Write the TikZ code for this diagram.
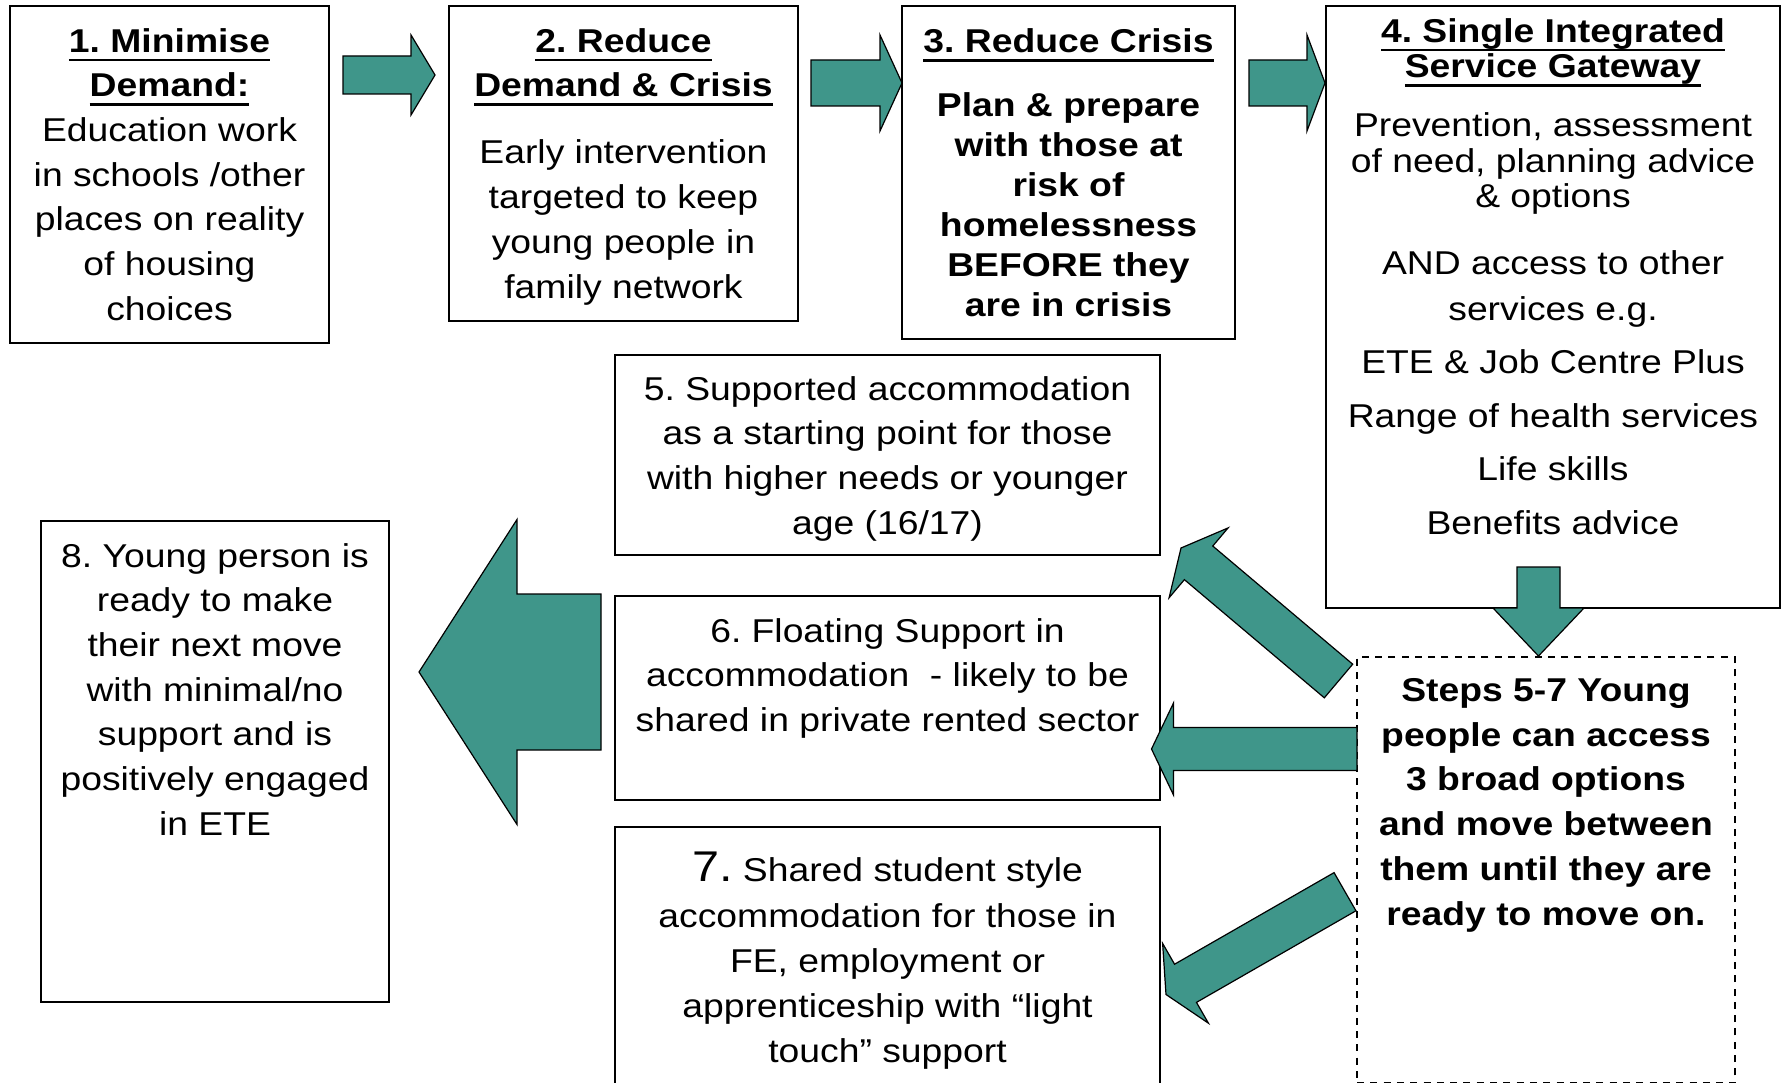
\documentclass[tikz,border=0pt]{standalone}
\usepackage{fontspec}
\setmainfont{Liberation Sans}[FakeStretch=1.13]
\usetikzlibrary{calc}
\definecolor{arrowteal}{HTML}{3F968A}
\frenchspacing
\newcommand{\uln}[1]{\mbox{\setbox0\hbox{#1}\rlap{\rule[-8.9pt]{\wd0}{2.4pt}}\box0}}
\tikzset{
  box/.style 2 args={draw, line width=1.8pt, inner sep=0pt, minimum width=#1, minimum height=#2},
  txt/.style={align=center, inner sep=0pt, anchor=north, font=\fontsize{33}{44.7}\selectfont},
  fat/.style={fill=arrowteal, draw=black, line width=1.2pt},
}
% tail, tip, half shaft, half head, head length
\newcommand{\fatarrow}[5]{%
  \coordinate (hb) at ($(#2)!#5!(#1)$);
  \filldraw[fat] ($(#1)!#3!90:(#2)$) -- ($(hb)!#3!90:(#2)$) -- ($(hb)!#4!90:(#2)$) -- (#2)
    -- ($(hb)!#4!-90:(#2)$) -- ($(hb)!#3!-90:(#2)$) -- ($(#1)!#3!-90:(#2)$) -- cycle;
}
\begin{document}
\begin{tikzpicture}[x=1pt, y=-1pt]
\useasboundingbox (0,0) rectangle (1783,1083);

\node[box={319pt}{337pt}] (b1) at (169.5,174.5) {};
\node[box={349pt}{315pt}] (b2) at (623.5,163.5) {};
\node[box={333pt}{333pt}] (b3) at (1068.5,172.5) {};
\node[box={454pt}{602pt}] (b4) at (1553,307) {};
\node[box={545pt}{200pt}] (b5) at (887.5,455) {};
\node[box={545pt}{204pt}] (b6) at (887.5,698) {};
\node[box={545pt}{273pt}] (b7) at (887.5,963.5) {};
\node[box={348pt}{481pt}] (b8) at (215,761.5) {};
\node[box={378pt}{426pt}, line width=1.6pt, dash pattern=on 7pt off 6.3pt] (b57) at (1546,870) {};

\node[txt] (b1t) at (169.5,28) {\textbf{\uln{1. Minimise}}\\ \textbf{\uln{Demand:}}\\ Education work\\ in schools /other\\ places on reality\\ of housing\\ choices};
\node[txt] (b2t) at (623.5,28) {\textbf{\uln{2. Reduce}}\\ \textbf{\uln{Demand \& Crisis}}\\[22.4pt] Early intervention\\ targeted to keep\\ young people in\\ family network};
\node[txt, font=\fontsize{33}{40}\selectfont\bfseries] (b3t) at (1068.5,28.5) {\uln{3. Reduce Crisis}\\[23.7pt] Plan \& prepare\\ with those at\\ risk of\\ homelessness\\ BEFORE they\\ are in crisis};
\node[txt, font=\fontsize{33}{35.5}\selectfont] (b4t) at (1553,18) {\textbf{\uln{4. Single Integrated}}\\ \textbf{\uln{Service Gateway}}\\[23.5pt] Prevention, assessment\\ of need, planning advice\\ \& options\\[31.5pt] AND access to other\\[10pt] services e.g.\\[18pt] ETE \& Job Centre Plus\\[18pt] Range of health services\\[18pt] Life skills\\[18pt] Benefits advice};
\node[txt] (b5t) at (887.5,376) {5. Supported accommodation\\ as a starting point for those\\ with higher needs or younger\\ age (16/17)};
\node[txt] (b6t) at (887.5,618) {6. Floating Support in\\ accommodation\ \ - likely to be\\ shared in private rented sector};
\node[txt, font=\fontsize{33}{45.3}\selectfont] (b7t) at (887.5,852) {{\fontsize{43}{45.3}\selectfont 7.} Shared student style\\ accommodation for those in\\ FE, employment or\\ apprenticeship with “light\\ touch” support};
\node[txt] (b8t) at (215,543) {8. Young person is\\ ready to make\\ their next move\\ with minimal/no\\ support and is\\ positively engaged\\ in ETE};
\node[txt, font=\fontsize{33}{44.8}\selectfont\bfseries] (b57t) at (1546,678) {Steps 5-7 Young\\ people can access\\ 3 broad options\\ and move between\\ them until they are\\ ready to move on.};

% arrow ends
\coordinate (a1s) at (343,75);     \coordinate (a1e) at (435,75);
\coordinate (a2s) at (811,83);     \coordinate (a2e) at (902,83);
\coordinate (a3s) at (1249,83);    \coordinate (a3e) at (1325,83);
\coordinate (a4s) at (1538.5,567); \coordinate (a4e) at (1538.5,656);
\coordinate (a5s) at (1338.5,681); \coordinate (a5e) at (1181,548);
\coordinate (a6s) at (1357,749);   \coordinate (a6e) at (1151.5,749);
\coordinate (a7s) at (1345,891.7); \coordinate (a7e) at (1166,994.5);
\coordinate (a8s) at (601,672);    \coordinate (a8e) at (419,672);

\fatarrow{a1s}{a1e}{19pt}{40pt}{24pt}
\fatarrow{a2s}{a2e}{23pt}{48pt}{22pt}
\fatarrow{a3s}{a3e}{23pt}{48pt}{18pt}
\fatarrow{a4s}{a4e}{21.5pt}{45.5pt}{48pt}
\fatarrow{a5s}{a5e}{22pt}{45.7pt}{23pt}
\fatarrow{a6s}{a6e}{21.5pt}{46pt}{22pt}
\fatarrow{a7s}{a7e}{22pt}{46pt}{22.5pt}
\fatarrow{a8s}{a8e}{78pt}{152.5pt}{98pt}
\end{tikzpicture}
\end{document}
